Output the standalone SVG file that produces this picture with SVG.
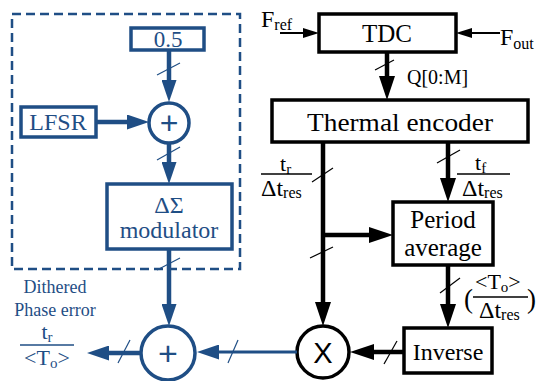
<svg xmlns="http://www.w3.org/2000/svg" width="536" height="381" viewBox="0 0 536 381" font-family="'Liberation Serif', 'Times New Roman', 'DejaVu Serif', serif">
<defs>
<marker id="ak" markerUnits="userSpaceOnUse" markerWidth="24" markerHeight="16" refX="11" refY="8" orient="auto"><path d="M0,0 L24,8 L0,16 z" fill="#000"/></marker>
<marker id="ab" markerUnits="userSpaceOnUse" markerWidth="22" markerHeight="15" refX="10" refY="7.5" orient="auto"><path d="M0,0 L22,7.5 L0,15 z" fill="#1f4e85"/></marker>
<marker id="aks" markerUnits="userSpaceOnUse" markerWidth="16" markerHeight="10" refX="8" refY="5" orient="auto"><path d="M0,0 L16,5 L0,10 z" fill="#000"/></marker>
</defs>
<style>
.k{fill:none;stroke:#000;stroke-width:3.5;}
.b{fill:none;stroke:#1f4e85;stroke-width:3.5;}
.bt{fill:#1f4e85;}
.kt{fill:#000;}
.kl{stroke:#000;stroke-width:4.5;fill:none;}
.bl{stroke:#1f4e85;stroke-width:4.5;fill:none;}
.ks{stroke:#000;stroke-width:1.2;}
.bs{stroke:#1f4e85;stroke-width:1.2;}
.fr{stroke-width:1.6;}
</style>

<g id="dither-box">
<rect x="12" y="14" width="228" height="255" fill="none" stroke="#1f4e85" stroke-width="2.5" stroke-dasharray="9,5"/>
</g>

<g id="const05">
<rect class="b" x="131" y="28" width="73" height="22"/>
<text class="bt" x="168" y="47" font-size="23" text-anchor="middle">0.5</text>
</g>
<g id="lfsr">
<rect class="b" x="21" y="107" width="75" height="30"/>
<text class="bt" x="58" y="130" font-size="24" text-anchor="middle">LFSR</text>
</g>
<g id="adder1">
<circle class="b" cx="169" cy="123" r="20"/>
<text class="bt" x="169" y="134" font-size="32" text-anchor="middle" font-family="'Liberation Sans', Arial, sans-serif">+</text>
</g>
<g id="dsm">
<rect class="b" x="107" y="184" width="125" height="65"/>
<text class="bt" x="169" y="213" font-size="24" text-anchor="middle">ΔΣ</text>
<text class="bt" x="169" y="238" font-size="24" text-anchor="middle">modulator</text>
</g>
<g id="adder2">
<circle class="b" cx="168" cy="353" r="27"/>
<text class="bt" x="168" y="365" font-size="34" text-anchor="middle" font-family="'Liberation Sans', Arial, sans-serif">+</text>
</g>
<g id="output-label">
<text class="bt" x="55" y="293" font-size="18" text-anchor="middle">Dithered</text>
<text class="bt" x="55" y="316" font-size="18" text-anchor="middle">Phase error</text>
<text class="bt" x="47" y="339" font-size="22" text-anchor="middle">t<tspan font-size="15" dy="3">r</tspan></text>
<line class="bs fr" x1="20" y1="345" x2="74" y2="345"/>
<text class="bt" x="47" y="365" font-size="22" text-anchor="middle">&lt;T<tspan font-size="15" dy="3">o</tspan><tspan dy="-3">&gt;</tspan></text>
</g>

<g id="tdc">
<rect class="k" x="319" y="14" width="137" height="38"/>
<text class="kt" x="387" y="42" font-size="25" text-anchor="middle">TDC</text>
</g>
<g id="fref">
<text class="kt" x="261" y="27" font-size="24">F<tspan font-size="16" dy="3">ref</tspan></text>
</g>
<g id="fout">
<text class="kt" x="500" y="45" font-size="24">F<tspan font-size="16" dy="4">out</tspan></text>
</g>
<g id="thermal">
<rect class="k" x="272" y="100" width="256" height="42"/>
<text class="kt" x="400" y="131" font-size="25" text-anchor="middle" textLength="186" lengthAdjust="spacingAndGlyphs">Thermal encoder</text>
</g>
<g id="period">
<rect class="k" x="393" y="202" width="100" height="63"/>
<text class="kt" x="443" y="228" font-size="25" text-anchor="middle">Period</text>
<text class="kt" x="443" y="256" font-size="25" text-anchor="middle">average</text>
</g>
<g id="inverse">
<rect class="k" x="404" y="328" width="88" height="45"/>
<text class="kt" x="448" y="360" font-size="24" text-anchor="middle">Inverse</text>
</g>
<g id="mult">
<circle class="k" cx="323" cy="352" r="26"/>
<text class="kt" x="323" y="363" font-size="29" text-anchor="middle" font-family="'Liberation Sans', Arial, sans-serif">X</text>
</g>

<g id="labels">
<text class="kt" x="407" y="84" font-size="20">Q[0:M]</text>
<text class="kt" x="280" y="171" font-size="22">t<tspan font-size="15" dy="3">r</tspan></text>
<line class="ks fr" x1="261" y1="174" x2="312" y2="174"/>
<text class="kt" x="261" y="196" font-size="24">Δt<tspan font-size="16" dy="2">res</tspan></text>
<text class="kt" x="475" y="170" font-size="22">t<tspan font-size="15" dy="3">f</tspan></text>
<line class="ks fr" x1="457" y1="174" x2="510" y2="174"/>
<text class="kt" x="462" y="196" font-size="24">Δt<tspan font-size="16" dy="2">res</tspan></text>
<text class="kt" x="464" y="308" font-size="27">(</text>
<text class="kt" x="475" y="289" font-size="22">&lt;T<tspan font-size="15" dy="3">o</tspan><tspan dy="-3">&gt;</tspan></text>
<line class="ks fr" x1="473" y1="297" x2="528" y2="297"/>
<text class="kt" x="479" y="318" font-size="24">Δt<tspan font-size="16" dy="2">res</tspan></text>
<text class="kt" x="527" y="308" font-size="27">)</text>
</g>

<g id="connectors">
<line class="bl" x1="169" y1="50" x2="169" y2="90" marker-end="url(#ab)"/>
<line class="bs" x1="157" y1="75" x2="180" y2="63"/>
<line class="bl" x1="96" y1="122" x2="137" y2="122" marker-end="url(#ab)"/>
<line class="bl" x1="169" y1="143" x2="169" y2="172" marker-end="url(#ab)"/>
<line class="bs" x1="157" y1="160" x2="180" y2="147"/>
<line class="bl" x1="169" y1="249" x2="169" y2="314" marker-end="url(#ab)"/>
<line class="bs" x1="157" y1="270" x2="180" y2="258"/>
<line class="bl" x1="141" y1="353" x2="99" y2="353" marker-end="url(#ab)"/>
<line class="bs" x1="118" y1="363" x2="130" y2="340"/>
<line x1="297" y1="352" x2="209" y2="352" stroke="#1f4e85" stroke-width="3" marker-end="url(#ab)"/>
<line class="bs" x1="228" y1="363" x2="238" y2="340"/>

<line x1="280" y1="33" x2="311" y2="33" stroke="#000" stroke-width="2" marker-end="url(#aks)"/>
<line x1="500" y1="33" x2="464" y2="33" stroke="#000" stroke-width="2" marker-end="url(#aks)"/>
<line class="kl" x1="387" y1="52" x2="387" y2="87" marker-end="url(#ak)"/>
<line class="ks" x1="375" y1="70" x2="394" y2="60"/>
<polyline class="kl" points="323,142 323,313" marker-end="url(#ak)"/>
<line class="ks" x1="312" y1="182" x2="333" y2="168"/>
<line class="ks" x1="310" y1="258" x2="333" y2="247"/>
<line class="kl" x1="323" y1="235" x2="380" y2="235" marker-end="url(#ak)"/>
<line class="kl" x1="448" y1="142" x2="448" y2="189" marker-end="url(#ak)"/>
<line class="ks" x1="437" y1="163" x2="460" y2="150"/>
<line class="kl" x1="448" y1="265" x2="448" y2="315" marker-end="url(#ak)"/>
<line class="ks" x1="440" y1="293" x2="460" y2="278"/>
<line class="kl" x1="404" y1="352" x2="363" y2="352" marker-end="url(#ak)"/>
<line class="ks" x1="384" y1="364" x2="397" y2="341"/>
</g>
</svg>
